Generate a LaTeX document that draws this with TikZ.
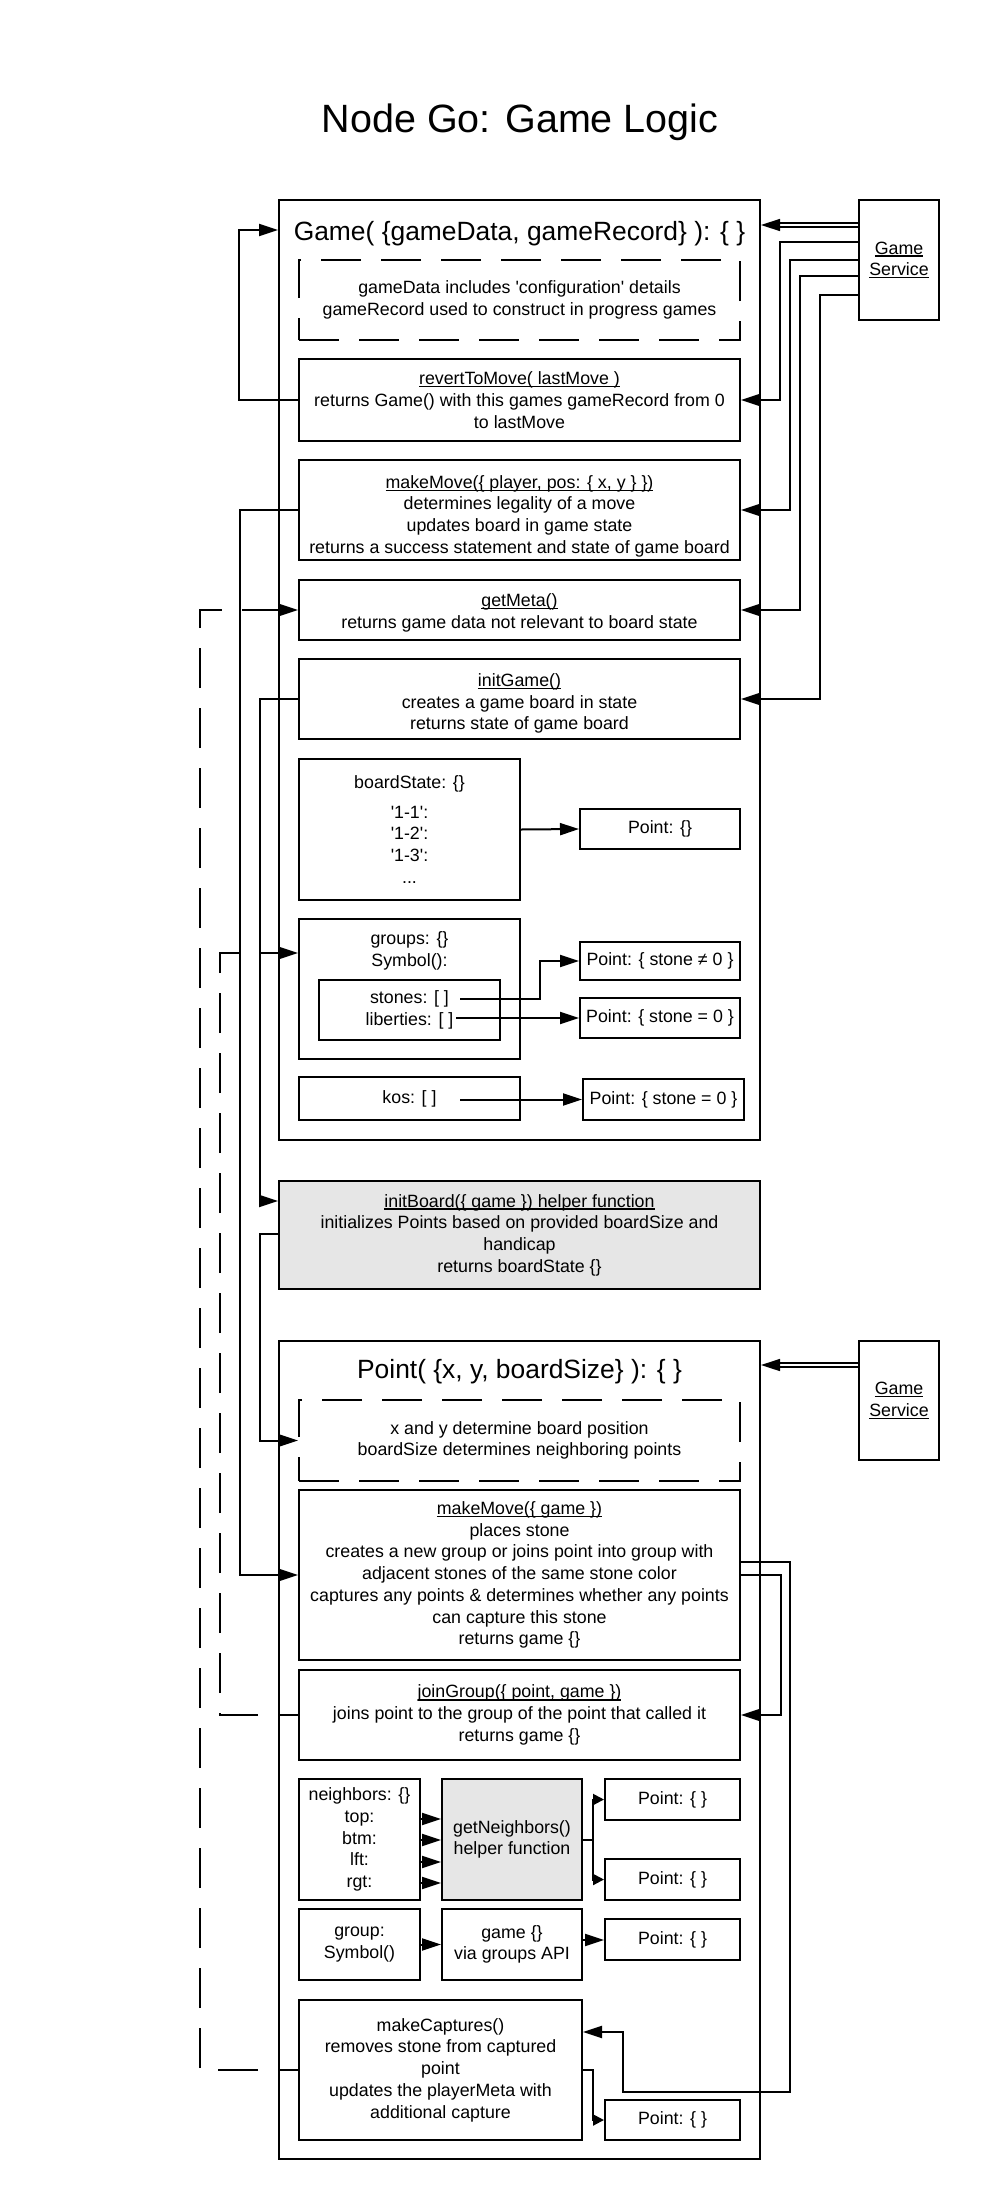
\documentclass[tikz,border=0pt]{standalone}
\usepackage{fontspec}
\setmainfont{Liberation Sans}
\usetikzlibrary{arrows.meta}
\newcommand\uln[1]{\leavevmode\setbox0=\hbox{#1}\rlap{\rule[-2.6pt]{\wd0}{1.2pt}}\box0}
\newcommand\tup[1]{\rule{0pt}{#1}}
\definecolor{helpergray}{HTML}{E6E6E6}
\begin{document}
\begin{tikzpicture}[x=1pt,y=-1pt,
  box/.style={draw, line width=2pt, rectangle, inner sep=0pt, align=center, font=\fontsize{17.8}{21.7}\selectfont},
  dbox/.style={box, dash pattern=on 40pt off 20pt},
  cont/.style={draw, line width=2pt, rectangle, inner sep=0pt},
  txt/.style={inner sep=0pt, align=center, font=\fontsize{17.8}{21.7}\selectfont},
  head/.style={inner sep=0pt, anchor=base, font=\fontsize{26.4}{31}\selectfont},
  arr/.style={line width=2pt, -{Triangle[length=19pt,width=12pt]}},
  sarr/.style={line width=2pt, -{Triangle[length=11pt,width=11pt]}},
  darr/.style={arr, dash pattern=on 40pt off 20pt, dash phase=20pt},
  dbl/.style={double, double distance=2.5pt, line width=1.5pt, -{Triangle[length=19pt,width=12pt]}},
]
\useasboundingbox (0,0) rectangle (980,2200);
\node[inner sep=0pt, anchor=base, font=\fontsize{39.5}{46}\selectfont] (title) at (520,132) {Node Go: Game Logic};

% ---------- Game ----------
\node[cont, minimum width=481pt, minimum height=940pt] (game) at (519.5,670) {};
\node[head] (gameTitle) at (519.5,240) {Game( \{gameData, gameRecord\} ): \{ \}};
\node[box, minimum width=80pt, minimum height=120pt] (gs1) at (899,260) {\uln{Game}\\\uln{Service}};
\node[dbox, minimum width=441pt, minimum height=80pt] (gdash) at (519.5,300) {gameData includes \textquotesingle configuration\textquotesingle{} details\\gameRecord used to construct in progress games};
\node[box, minimum width=441pt, minimum height=82pt] (revert) at (519.5,400) {\uln{revertToMove( lastMove )}\\returns Game() with this games gameRecord from 0\\to lastMove};
\node[box, minimum width=441pt, minimum height=100pt] (mmA) at (519.5,510) {\tup{25pt}\uln{makeMove(\{ player, pos: \{ x, y \} \})}\\determines legality of a move\\updates board in game state\\returns a success statement and state of game board};
\node[box, minimum width=441pt, minimum height=60pt] (meta) at (519.5,610) {\tup{19pt}\uln{getMeta()}\\returns game data not relevant to board state};
\node[box, minimum width=441pt, minimum height=80pt] (initG) at (519.5,699) {\tup{22pt}\uln{initGame()}\\creates a game board in state\\returns state of game board};
\node[box, minimum width=221pt, minimum height=141pt] (bstate) at (409.5,829.5) {boardState: \{\}\\[8pt]\textquotesingle 1-1\textquotesingle:\\\textquotesingle 1-2\textquotesingle:\\\textquotesingle 1-3\textquotesingle:\\...};
\node[box, minimum width=160pt, minimum height=40pt] (pt0) at (660,829) {Point: \{\}};
\node[box, minimum width=221pt, minimum height=140pt] (groups) at (409.5,989) {};
\node[txt] (groupsTxt) at (409.5,951) {groups: \{\}\\Symbol():};
\node[box, minimum width=181pt, minimum height=60pt] (sym) at (409.5,1010) {stones: [ ]\\liberties: [ ]};
\node[box, minimum width=160pt, minimum height=38pt] (ptA) at (660,961) {Point: \{ stone ≠ 0 \}};
\node[box, minimum width=160pt, minimum height=40pt] (ptB) at (660,1018) {Point: \{ stone = 0 \}};
\node[box, minimum width=221pt, minimum height=43pt] (kos) at (409.5,1098.5) {kos: [ ]};
\node[box, minimum width=161pt, minimum height=41pt] (ptC) at (663.5,1099.5) {Point: \{ stone = 0 \}};

% ---------- initBoard ----------
\node[box, fill=helpergray, minimum width=481pt, minimum height=108pt] (initB) at (519.5,1235) {\uln{initBoard(\{ game \}) helper function}\\initializes Points based on provided boardSize and\\handicap\\returns boardState \{\}};

% ---------- Point ----------
\node[cont, minimum width=481pt, minimum height=818pt] (point) at (519.5,1750) {};
\node[head] (pointTitle) at (519.5,1378) {Point( \{x, y, boardSize\} ): \{ \}};
\node[box, minimum width=80pt, minimum height=119pt] (gs2) at (899,1400.5) {\uln{Game}\\\uln{Service}};
\node[dbox, minimum width=441pt, minimum height=81pt] (pdash) at (519.5,1440.5) {x and y determine board position\\boardSize determines neighboring points};
\node[box, minimum width=441pt, minimum height=170pt] (mmB) at (519.5,1575) {\uln{makeMove(\{ game \})}\\places stone\\creates a new group or joins point into group with\\adjacent stones of the same stone color\\captures any points \& determines whether any points\\can capture this stone\\returns game \{\}};
\node[box, minimum width=441pt, minimum height=90pt] (join) at (519.5,1715) {\uln{joinGroup(\{ point, game \})}\\joins point to the group of the point that called it\\returns game \{\}};
\node[box, minimum width=121pt, minimum height=121pt] (nb) at (359.5,1839.5) {neighbors: \{\}\\top:\\btm:\\lft:\\rgt:};
\node[box, fill=helpergray, minimum width=140pt, minimum height=121pt] (gn) at (512,1839.5) {getNeighbors()\\helper function};
\node[box, minimum width=135pt, minimum height=41pt] (p1) at (672.5,1799.5) {Point: \{ \}};
\node[box, minimum width=135pt, minimum height=41pt] (p2) at (672.5,1879.5) {Point: \{ \}};
\node[box, minimum width=121pt, minimum height=71pt] (grp) at (359.5,1944.5) {group:\\Symbol()};
\node[box, minimum width=140pt, minimum height=71pt] (gm) at (512,1944.5) {game \{\}\\via groups API};
\node[box, minimum width=135pt, minimum height=41pt] (p3) at (672.5,1939.5) {Point: \{ \}};
\node[box, minimum width=283pt, minimum height=140pt] (cap) at (440.5,2070) {makeCaptures()\\removes stone from captured\\point\\updates the playerMeta with\\additional capture};
\node[box, minimum width=135pt, minimum height=40pt] (p4) at (672.5,2120) {Point: \{ \}};

\coordinate (stonesEnd) at (460,999);
\coordinate (libEnd) at (456,1018);
\coordinate (kosEnd) at (460,1099.5);

% ---------- connectors ----------
\draw[arr] (revert.west) -- (239,400) |- (game.west |- 0,230);
\draw[dbl] (gs1.west |- 0,225) -- (game.east |- 0,225);
\draw[arr] (gs1.west |- 0,242) -- (780,242) |- (revert.east);
\draw[arr] (gs1.west |- 0,260) -- (790,260) |- (mmA.east);
\draw[arr] (gs1.west |- 0,276) -- (800,276) |- (meta.east);
\draw[arr] (gs1.west |- 0,295) -- (820,295) |- (initG.east);
\draw[arr] (mmA.west) -- (240,510) |- (mmB.west);
\draw[arr] (initG.west) -- (260,699) |- (initB.west |- 0,1201);
\draw[arr] (initB.west |- 0,1234) -- (260,1234) |- (pdash.west);
\draw[arr] (bstate.east) -- (pt0.west);
\draw[arr] (stonesEnd) -- (540,999) |- (ptA.west);
\draw[arr] (libEnd) -- (ptB.west);
\draw[arr] (kosEnd) -- (ptC.west);
\draw[darr] (cap.west) -- (200,2070) -- (200,610) -- (meta.west);
\draw[darr] (join.west) -- (220,1715) -- (220,953) -- (groups.west |- 0,953);
\draw[dbl] (gs2.west |- 0,1365) -- (point.east |- 0,1365);
\draw[arr] (mmB.east |- 0,1562) -- (790,1562) -- (790,2092) -- (623,2092) |- (cap.east |- 0,2032);
\draw[arr] (mmB.east) -- (781,1575) |- (join.east);
\foreach \yy in {1819,1840,1862,1883} \draw[arr] (nb.east |- 0,\yy) -- (gn.west |- 0,\yy);
\draw[sarr] (gn.east) -- (593,1839.5) |- (p1.west);
\draw[sarr] (gn.east) -- (593,1839.5) |- (p2.west);
\draw[arr] (grp.east) -- (gm.west);
\draw[arr] (gm.east |- 0,1940) -- (p3.west |- 0,1940);
\draw[sarr] (cap.east) -- (593,2070) |- (p4.west);
\end{tikzpicture}
\end{document}
